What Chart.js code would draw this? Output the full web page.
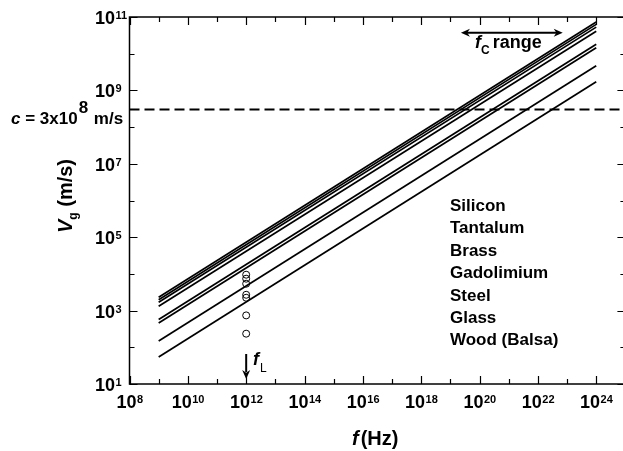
<!DOCTYPE html>
<html>
<head>
<meta charset="utf-8">
<script src="https://cdn.jsdelivr.net/npm/chart.js@4.4.0/dist/chart.umd.min.js"></script>
<style>
  html, body { margin: 0; padding: 0; background: #fff; overflow: hidden; }
  #wrap { position: relative; width: 632px; height: 451px; }
</style>
</head>
<body>
<div id="wrap"><canvas id="chart"></canvas></div>
<script>
// values
const materials = ['Silicon', 'Tantalum', 'Brass', 'Gadolimium', 'Steel', 'Glass', 'Wood (Balsa)'];
const lineFreqs = [1e9, 1e24];
const vgAtLow = [2300, 1980, 1680, 1310, 570, 460, 149, 54.5];                 // Vg at 1e9 Hz
const vgAtHigh = [7.3e10, 6.3e10, 5.3e10, 4.1e10, 1.8e10, 1.45e10, 4.7e9, 1.72e9]; // Vg at 1e24 Hz
const fL = 1e12;
const vgAtFL = [9500, 7400, 5400, 2700, 2240, 740, 235];
const lightSpeed = 3e8;
const fcRange = [2.3e19, 7.1e22];
const fcArrowVg = 3.7e10;
const xLabelExps = [8, 10, 12, 14, 16, 18, 20, 22, 24];
const yLabelExps = [1, 3, 5, 7, 9, 11];

const FONT = '"Liberation Sans", Arial, sans-serif';
const BLACK = '#000';

const lineSets = vgAtLow.map((v, i) => ({
    type: 'scatter',
    data: [{ x: lineFreqs[0], y: v }, { x: lineFreqs[1], y: vgAtHigh[i] }],
    showLine: true,
    borderColor: BLACK,
    borderWidth: 1.7,
    pointRadius: 0
}));

const cLine = {
    type: 'scatter',
    data: [{ x: 1e8, y: lightSpeed }, { x: 1e25, y: lightSpeed }],
    showLine: true,
    borderColor: BLACK,
    borderWidth: 2,
    borderDash: [10, 5],
    pointRadius: 0
};

const markers = {
    type: 'scatter',
    data: vgAtFL.map(v => ({ x: fL, y: v })),
    showLine: false,
    pointRadius: 3.5,
    pointBorderWidth: 1,
    pointBorderColor: BLACK,
    pointBackgroundColor: 'rgba(0,0,0,0)'
};

// draws "10" with a superscript exponent
function drawPower(ctx, exp, x, baseY, align) {
    ctx.font = 'bold 18px ' + FONT;
    const bw = ctx.measureText('10').width;
    ctx.font = 'bold 11px ' + FONT;
    const sw = ctx.measureText(String(exp)).width;
    const x0 = align === 'center' ? x - (bw + sw) / 2 : x - bw;
    ctx.textAlign = 'left';
    ctx.textBaseline = 'alphabetic';
    ctx.font = 'bold 18px ' + FONT;
    ctx.fillText('10', x0, baseY);
    ctx.font = 'bold 11px ' + FONT;
    ctx.fillText(String(exp), x0 + bw + 0.5, baseY - 5);
}

function drawRuns(ctx, runs, x, y) {
    ctx.textAlign = 'left';
    ctx.textBaseline = 'alphabetic';
    runs.forEach(r => {
        ctx.font = r.font;
        ctx.fillText(r.text, x, y + (r.dy || 0));
        x += ctx.measureText(r.text).width + (r.gap || 0);
    });
}

function arrowHead(ctx, x, y, dx, dy) {
    const len = 9, half = 4;
    const px = -dy, py = dx;
    ctx.beginPath();
    ctx.moveTo(x, y);
    ctx.lineTo(x - dx * len + px * half, y - dy * len + py * half);
    ctx.lineTo(x - dx * len * 0.7, y - dy * len * 0.7);
    ctx.lineTo(x - dx * len - px * half, y - dy * len - py * half);
    ctx.closePath();
    ctx.fill();
}

const decorations = {
    id: 'decorations',
    afterDraw(chart) {
        const ctx = chart.ctx;
        const { left, right, top, bottom } = chart.chartArea;
        const xs = chart.scales.x, ys = chart.scales.y;
        ctx.save();
        ctx.strokeStyle = BLACK;
        ctx.fillStyle = BLACK;

        // frame
        ctx.lineWidth = 1.5;
        ctx.strokeRect(left, top, right - left, bottom - top);

        // inward ticks, one per decade
        ctx.lineWidth = 1.2;
        ctx.beginPath();
        for (let e = 8; e <= 25; e++) {
            const px = Math.round(xs.getPixelForValue(Math.pow(10, e))) + 0.5;
            const len = e % 2 === 0 ? 8 : 5;
            ctx.moveTo(px, bottom); ctx.lineTo(px, bottom - len);
            ctx.moveTo(px, top); ctx.lineTo(px, top + len);
        }
        for (let e = 1; e <= 11; e++) {
            const py = Math.round(ys.getPixelForValue(Math.pow(10, e))) + 0.5;
            const len = e % 2 === 1 ? 8 : 5;
            ctx.moveTo(left, py); ctx.lineTo(left + len, py);
            ctx.moveTo(right, py); ctx.lineTo(right - len, py);
        }
        ctx.stroke();

        // tick labels
        xLabelExps.forEach(e => drawPower(ctx, e, xs.getPixelForValue(Math.pow(10, e)), 408, 'center'));
        yLabelExps.forEach(e => drawPower(ctx, e, 115, ys.getPixelForValue(Math.pow(10, e)) + 7, 'right'));

        // axis titles
        drawRuns(ctx, [
            { text: 'f', font: 'italic bold 20px ' + FONT, gap: 2 },
            { text: '(Hz)', font: 'bold 20px ' + FONT }
        ], 352, 445);

        ctx.save();
        ctx.translate(72, 233);
        ctx.rotate(-Math.PI / 2);
        drawRuns(ctx, [
            { text: 'V', font: 'italic bold 20px ' + FONT },
            { text: 'g', font: 'bold 12px ' + FONT, dy: 5 },
            { text: ' (m/s)', font: 'bold 20px ' + FONT }
        ], 0, 0);
        ctx.restore();

        // speed of light label
        drawRuns(ctx, [
            { text: 'c', font: 'italic bold 17px ' + FONT },
            { text: ' = 3x10', font: 'bold 17px ' + FONT, gap: 1 },
            { text: '8', font: 'bold 17px ' + FONT, dy: -11, gap: 1 },
            { text: ' m/s', font: 'bold 17px ' + FONT }
        ], 11, 124);

        // material list
        ctx.font = 'bold 17px ' + FONT;
        materials.forEach((m, i) => ctx.fillText(m, 450, 211 + i * 22.4));

        // fc range arrow
        ctx.lineWidth = 2;
        const ay = ys.getPixelForValue(fcArrowVg);
        const ax0 = xs.getPixelForValue(fcRange[0]), ax1 = xs.getPixelForValue(fcRange[1]);
        ctx.beginPath();
        ctx.moveTo(ax0 + 5, ay); ctx.lineTo(ax1 - 5, ay);
        ctx.stroke();
        arrowHead(ctx, ax0, ay, -1, 0);
        arrowHead(ctx, ax1, ay, 1, 0);
        drawRuns(ctx, [
            { text: 'f', font: 'italic bold 18px ' + FONT, gap: 0 },
            { text: 'C', font: 'bold 12px ' + FONT, dy: 6, gap: 3 },
            { text: 'range', font: 'bold 18px ' + FONT }
        ], 475, 48);

        // fL arrow
        const lx = xs.getPixelForValue(fL);
        ctx.beginPath();
        ctx.moveTo(lx, 354); ctx.lineTo(lx, 372);
        ctx.stroke();
        arrowHead(ctx, lx, 379, 0, 1);
        drawRuns(ctx, [
            { text: 'f', font: 'italic bold 18px ' + FONT, gap: 1 },
            { text: 'L', font: '12px ' + FONT, dy: 7 }
        ], 253, 365);

        ctx.restore();
    }
};

new Chart(document.getElementById('chart'), {
    type: 'scatter',
    data: { datasets: [...lineSets, cLine, markers] },
    options: {
        responsive: true,
        maintainAspectRatio: false,
        animation: false,
        layout: { padding: { left: 129.5, top: 17, right: 6.6, bottom: 67 } },
        scales: {
            x: { type: 'logarithmic', min: 1e8, max: 1e25, display: false },
            y: { type: 'logarithmic', min: 10, max: 1e11, display: false }
        },
        plugins: {
            legend: { display: false },
            tooltip: { enabled: false }
        }
    },
    plugins: [decorations]
});
</script>
</body>
</html>
